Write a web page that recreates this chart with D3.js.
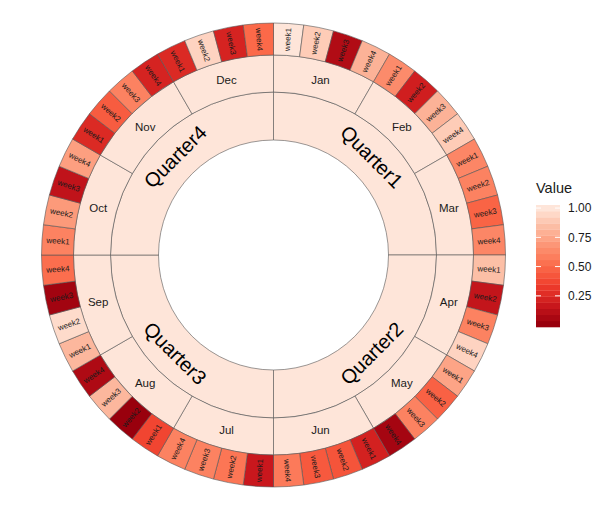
<!DOCTYPE html>
<html>
<head>
<meta charset="utf-8">
<script src="https://cdn.jsdelivr.net/npm/d3@7"></script>
<style>
  body { margin: 0; background: #fff; }
  svg { font-family: "Liberation Sans", Arial, sans-serif; }
</style>
</head>
<body>
<div id="chart"></div>
<script>
const quarters = ["Quarter1", "Quarter2", "Quarter3", "Quarter4"];
const months = ["Jan", "Feb", "Mar", "Apr", "May", "Jun", "Jul", "Aug", "Sep", "Oct", "Nov", "Dec"];
const weeks = ["week1", "week2", "week3", "week4"];
// one value per week, Jan week1 .. Dec week4
const weekValues = [
    1.00, 0.90, 0.09, 0.80,   // Jan
    0.64, 0.20, 0.80, 0.90,   // Feb
    0.62, 0.60, 0.48, 0.62,   // Mar
    0.85, 0.15, 0.60, 0.93,   // Apr
    0.74, 0.47, 0.60, 0.05,   // May
    0.21, 0.42, 0.44, 0.57,   // Jun
    0.17, 0.55, 0.60, 0.60,   // Jul
    0.37, 0.01, 0.82, 0.08,   // Aug
    0.82, 0.96, 0.04, 0.52,   // Sep
    0.60, 0.70, 0.14, 0.72,   // Oct
    0.25, 0.45, 0.60, 0.22,   // Nov
    0.25, 0.93, 0.22, 0.50    // Dec
];
const legendTicks = [0.25, 0.50, 0.75, 1.00];
const redsPalette = ["#99000D", "#CB181D", "#EF3B2C", "#FB6A4A", "#FC9272", "#FCBBA1", "#FEE5D9"];
const lightFill = "#FEE5D9";

const width = 612;
const height = 509;
const cx = 273.5;
const cy = 255;
const radius = {hole: 115, quarter: 163, month: 200, week: 232};

const svg = d3.select("#chart").append("svg")
    .attr("width", width)
    .attr("height", height);

const [vmin, vmax] = d3.extent(weekValues);
const color = d3.scaleLinear()
    .domain(d3.range(redsPalette.length).map(i => vmin + (vmax - vmin) * i / (redsPalette.length - 1)))
    .range(redsPalette)
    .interpolate(d3.interpolateLab);

const weekData = weekValues.map((v, i) => ({
    label: weeks[i % 4],
    value: v
}));

const angle = n => d3.scaleLinear().domain([0, n]).range([0, 2 * Math.PI]);
const aWeek = angle(weekData.length);
const aMonth = angle(months.length);
const aQuarter = angle(quarters.length);

const g = svg.append("g").attr("transform", `translate(${cx},${cy})`);

const stroke = "#555";

// quarter ring
const qArc = d3.arc().innerRadius(radius.hole).outerRadius(radius.quarter);
g.append("g").selectAll("path")
    .data(quarters)
    .join("path")
    .attr("d", (d, i) => qArc({startAngle: aQuarter(i), endAngle: aQuarter(i + 1)}))
    .attr("fill", lightFill)
    .attr("stroke", stroke)
    .attr("stroke-width", 0.6);

// month ring
const mArc = d3.arc().innerRadius(radius.quarter).outerRadius(radius.month);
g.append("g").selectAll("path")
    .data(months)
    .join("path")
    .attr("d", (d, i) => mArc({startAngle: aMonth(i), endAngle: aMonth(i + 1)}))
    .attr("fill", lightFill)
    .attr("stroke", stroke)
    .attr("stroke-width", 0.6);

// week ring
const wArc = d3.arc().innerRadius(radius.month).outerRadius(radius.week);
g.append("g").selectAll("path")
    .data(weekData)
    .join("path")
    .attr("d", (d, i) => wArc({startAngle: aWeek(i), endAngle: aWeek(i + 1)}))
    .attr("fill", d => color(d.value))
    .attr("stroke", stroke)
    .attr("stroke-width", 0.6);

const polar = (a, r) => [r * Math.sin(a), -r * Math.cos(a)];

// week labels, radial
g.append("g").selectAll("text")
    .data(weekData)
    .join("text")
    .attr("transform", (d, i) => {
        const a = (aWeek(i) + aWeek(i + 1)) / 2;
        const [x, y] = polar(a, (radius.month + radius.week) / 2);
        const deg = a * 180 / Math.PI;
        const rot = deg < 180 ? deg - 90 : deg - 270;
        return `translate(${x},${y}) rotate(${rot})`;
    })
    .attr("text-anchor", "middle")
    .attr("dy", "0.35em")
    .attr("font-size", 8)
    .attr("fill", "#1a1a1a")
    .text(d => d.label);

// month labels, horizontal
g.append("g").selectAll("text")
    .data(months)
    .join("text")
    .attr("transform", (d, i) => {
        const [x, y] = polar((aMonth(i) + aMonth(i + 1)) / 2, (radius.quarter + radius.month) / 2);
        return `translate(${x},${y})`;
    })
    .attr("text-anchor", "middle")
    .attr("dy", "0.35em")
    .attr("font-size", 11.5)
    .attr("fill", "#1a1a1a")
    .text(d => d);

// quarter labels, tangential
g.append("g").selectAll("text")
    .data(quarters)
    .join("text")
    .attr("transform", (d, i) => {
        const a = (aQuarter(i) + aQuarter(i + 1)) / 2;
        const [x, y] = polar(a, (radius.hole + radius.quarter) / 2);
        const deg = a * 180 / Math.PI;
        const rot = (deg > 90 && deg < 270) ? deg - 180 : (deg >= 270 ? deg - 360 : deg);
        return `translate(${x},${y}) rotate(${rot})`;
    })
    .attr("text-anchor", "middle")
    .attr("dy", "0.35em")
    .attr("font-size", 20)
    .attr("fill", "#000")
    .text(d => d);

// legend
const legend = {x: 536, w: 24, top: 205, bottom: 327, nbin: 20};
const binH = (legend.bottom - legend.top) / legend.nbin;
const ly = d3.scaleLinear()
    .domain([vmin, vmax])
    .range([legend.bottom - binH / 2, legend.top + binH / 2]);

const lg = svg.append("g");
lg.append("text")
    .attr("x", legend.x)
    .attr("y", 193)
    .attr("font-size", 14.5)
    .attr("fill", "#1a1a1a")
    .text("Value");

lg.selectAll("rect")
    .data(d3.range(legend.nbin))
    .join("rect")
    .attr("x", legend.x)
    .attr("y", i => legend.bottom - (i + 1) * binH)
    .attr("width", legend.w)
    .attr("height", binH + 0.3)
    .attr("fill", i => color(vmin + (vmax - vmin) * i / (legend.nbin - 1)));

const tickG = lg.selectAll("g.tick")
    .data(legendTicks)
    .join("g")
    .attr("class", "tick")
    .attr("transform", d => `translate(0,${ly(d)})`);
tickG.append("line")
    .attr("x1", legend.x).attr("x2", legend.x + 5)
    .attr("stroke", "#fff").attr("stroke-width", 1);
tickG.append("line")
    .attr("x1", legend.x + legend.w - 5).attr("x2", legend.x + legend.w)
    .attr("stroke", "#fff").attr("stroke-width", 1);
tickG.append("text")
    .attr("x", legend.x + legend.w + 8)
    .attr("dy", "0.35em")
    .attr("font-size", 12)
    .attr("fill", "#1a1a1a")
    .text(d => d.toFixed(2));
</script>
</body>
</html>
